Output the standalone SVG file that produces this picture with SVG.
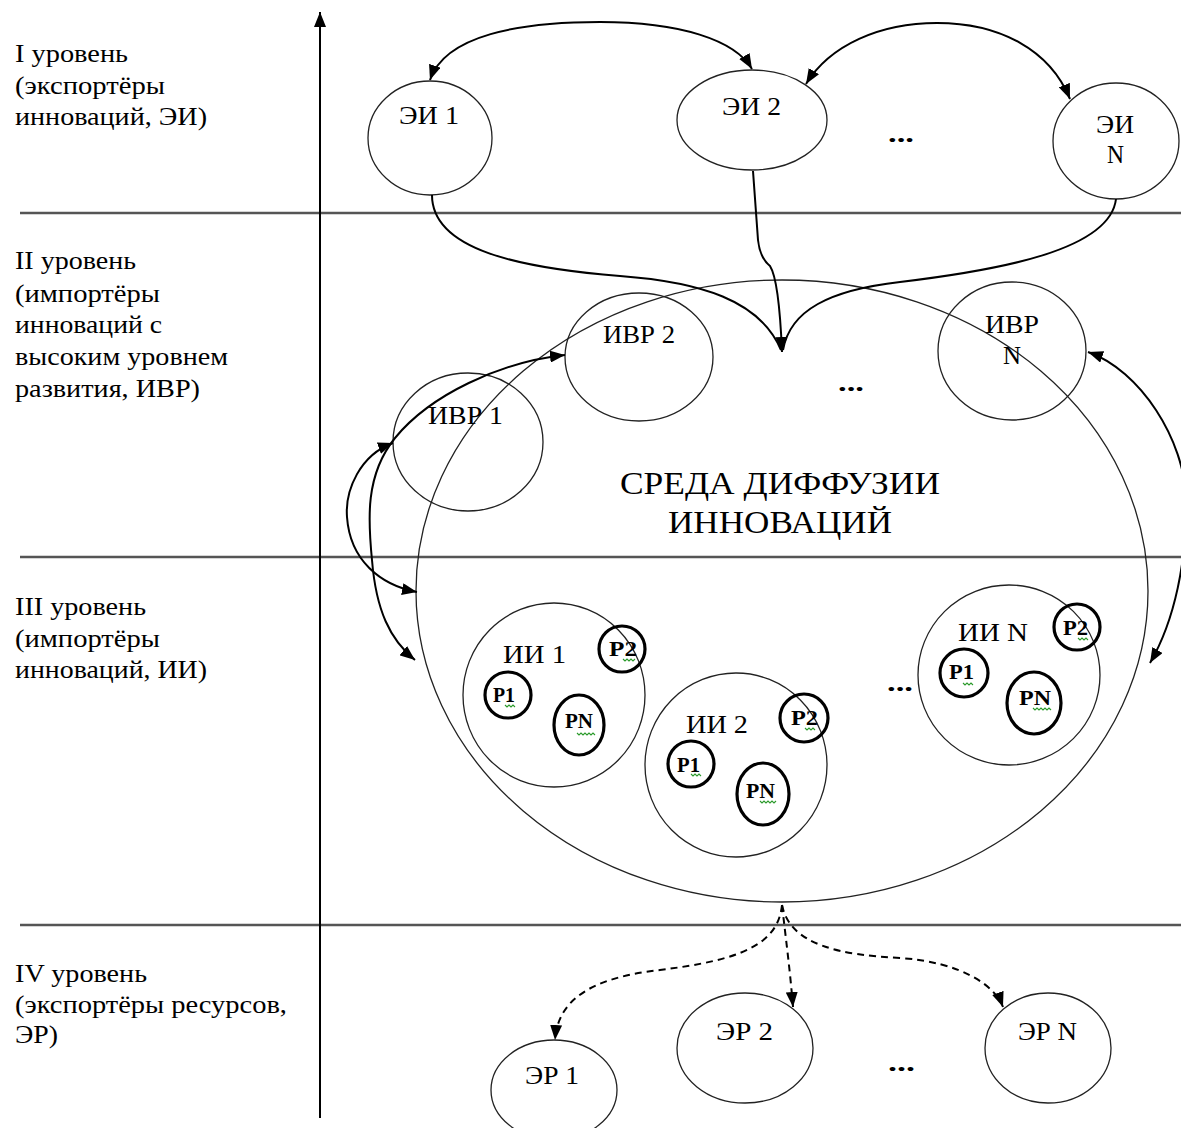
<svg xmlns="http://www.w3.org/2000/svg" width="1181" height="1128" viewBox="0 0 1181 1128">
<style>
text{font-family:"Liberation Serif","Times New Roman",serif;fill:#000;}
.lvl{font-size:25px;}
.lbl{font-size:26px;}
.big{font-size:31px;}
.p{font-size:22px;font-weight:bold;}
.dots{font-size:26px;font-weight:bold;}
.node{fill:none;stroke:#222;stroke-width:1.3;}
.pc{fill:none;stroke:#000;stroke-width:3.2;}
.band{stroke:#555;stroke-width:2.5;fill:none;}
.axis{stroke:#000;stroke-width:2;fill:none;}
.con{fill:none;stroke:#000;stroke-width:2;}
.dash{fill:none;stroke:#000;stroke-width:2;stroke-dasharray:7,5;}
.sq{fill:none;stroke:#2a9a2a;stroke-width:1.1;}
</style>
<defs>
<marker id="ah" markerUnits="userSpaceOnUse" markerWidth="16" markerHeight="12" refX="15" refY="6" orient="auto-start-reverse">
<path d="M0,0 L15,6 L0,12 z" fill="#000"/>
</marker>
</defs>
<rect width="1181" height="1128" fill="#fff"/>

<g id="grid">
<line class="band" x1="20" y1="213" x2="1181" y2="213"/>
<line class="band" x1="20" y1="557" x2="1181" y2="557"/>
<line class="band" x1="20" y1="925" x2="1181" y2="925"/>
<line class="axis" x1="320" y1="1118" x2="320" y2="12" marker-end="url(#ah)"/>
</g>

<g id="levels">
<text class="lvl" x="15" y="62" textLength="113" lengthAdjust="spacingAndGlyphs">I уровень</text>
<text class="lvl" x="15" y="94" textLength="150" lengthAdjust="spacingAndGlyphs">(экспортёры</text>
<text class="lvl" x="15" y="125" textLength="192" lengthAdjust="spacingAndGlyphs">инноваций, ЭИ)</text>
<text class="lvl" x="15" y="269" textLength="121" lengthAdjust="spacingAndGlyphs">II уровень</text>
<text class="lvl" x="15" y="302" textLength="145" lengthAdjust="spacingAndGlyphs">(импортёры</text>
<text class="lvl" x="15" y="333" textLength="147" lengthAdjust="spacingAndGlyphs">инноваций с</text>
<text class="lvl" x="15" y="365" textLength="213" lengthAdjust="spacingAndGlyphs">высоким уровнем</text>
<text class="lvl" x="15" y="397" textLength="185" lengthAdjust="spacingAndGlyphs">развития, ИВР)</text>
<text class="lvl" x="15" y="615" textLength="131" lengthAdjust="spacingAndGlyphs">III уровень</text>
<text class="lvl" x="15" y="647" textLength="145" lengthAdjust="spacingAndGlyphs">(импортёры</text>
<text class="lvl" x="15" y="678" textLength="192" lengthAdjust="spacingAndGlyphs">инноваций, ИИ)</text>
<text class="lvl" x="15" y="982" textLength="132" lengthAdjust="spacingAndGlyphs">IV уровень</text>
<text class="lvl" x="15" y="1013" textLength="272" lengthAdjust="spacingAndGlyphs">(экспортёры ресурсов,</text>
<text class="lvl" x="15" y="1043" textLength="43" lengthAdjust="spacingAndGlyphs">ЭР)</text>
</g>

<g id="env">
<ellipse class="node" cx="782" cy="591" rx="366" ry="311"/>
<text class="big" x="620" y="494" textLength="320" lengthAdjust="spacingAndGlyphs">СРЕДА ДИФФУЗИИ</text>
<text class="big" x="668" y="533" textLength="224" lengthAdjust="spacingAndGlyphs">ИННОВАЦИЙ</text>
</g>

<g id="ei1"><ellipse class="node" cx="430" cy="138" rx="62" ry="57"/><text class="lbl" x="399" y="124" textLength="60" lengthAdjust="spacingAndGlyphs">ЭИ 1</text></g>
<g id="ei2"><ellipse class="node" cx="752" cy="120" rx="75" ry="50"/><text class="lbl" x="722" y="115" textLength="59" lengthAdjust="spacingAndGlyphs">ЭИ 2</text></g>
<g id="eiN"><ellipse class="node" cx="1116" cy="141" rx="63" ry="58"/><text class="lbl" x="1096" y="133" textLength="38" lengthAdjust="spacingAndGlyphs">ЭИ</text><text class="lbl" x="1107" y="163" textLength="17" lengthAdjust="spacingAndGlyphs">N</text></g>
<g id="dots1"><text class="dots" x="888" y="142" textLength="26" lengthAdjust="spacingAndGlyphs">...</text></g>

<g id="ivr1"><ellipse class="node" cx="468" cy="442" rx="75" ry="69"/><text class="lbl" x="428" y="424" textLength="75" lengthAdjust="spacingAndGlyphs">ИВР 1</text></g>
<g id="ivr2"><ellipse class="node" cx="639" cy="357" rx="74" ry="64"/><text class="lbl" x="603" y="343" textLength="72" lengthAdjust="spacingAndGlyphs">ИВР 2</text></g>
<g id="ivrN"><ellipse class="node" cx="1012" cy="351" rx="74" ry="69"/><text class="lbl" x="985" y="333" textLength="54" lengthAdjust="spacingAndGlyphs">ИВР</text><text class="lbl" x="1003" y="364" textLength="18" lengthAdjust="spacingAndGlyphs">N</text></g>
<g id="dots2"><text class="dots" x="838" y="391" textLength="26" lengthAdjust="spacingAndGlyphs">...</text></g>

<g id="ii1">
<ellipse class="node" cx="554" cy="695" rx="91" ry="92"/>
<text class="lbl" x="503" y="663" textLength="63" lengthAdjust="spacingAndGlyphs">ИИ 1</text>
<circle class="pc" cx="622" cy="649" r="23"/><text class="p" x="609" y="656" textLength="28" lengthAdjust="spacingAndGlyphs">Р2</text>
<path class="sq" d="M623,659 l2,2 l2,-2 l2,2 l2,-2 l2,2 l2,-2"/>
<circle class="pc" cx="508" cy="695" r="23"/><text class="p" x="493" y="702" textLength="22" lengthAdjust="spacingAndGlyphs">Р1</text>
<path class="sq" d="M505,705 l2,2 l2,-2 l2,2 l2,-2 l2,2"/>
<ellipse class="pc" cx="579" cy="725" rx="25" ry="30"/><text class="p" x="565" y="728" textLength="28" lengthAdjust="spacingAndGlyphs">РN</text>
<path class="sq" d="M577,733 l2,2 l2,-2 l2,2 l2,-2 l2,2 l2,-2 l2,2 l2,-2 l2,2"/>
</g>
<g id="ii2">
<ellipse class="node" cx="736" cy="765" rx="91" ry="92"/>
<text class="lbl" x="686" y="733" textLength="62" lengthAdjust="spacingAndGlyphs">ИИ 2</text>
<circle class="pc" cx="804" cy="718" r="24"/><text class="p" x="791" y="725" textLength="27" lengthAdjust="spacingAndGlyphs">Р2</text>
<path class="sq" d="M805,728 l2,2 l2,-2 l2,2 l2,-2 l2,2"/>
<circle class="pc" cx="691" cy="764" r="23"/><text class="p" x="677" y="772" textLength="23" lengthAdjust="spacingAndGlyphs">Р1</text>
<path class="sq" d="M691,774 l2,2 l2,-2 l2,2 l2,-2 l2,2"/>
<ellipse class="pc" cx="763" cy="794" rx="26" ry="31"/><text class="p" x="746" y="798" textLength="29" lengthAdjust="spacingAndGlyphs">РN</text>
<path class="sq" d="M760,801 l2,2 l2,-2 l2,2 l2,-2 l2,2 l2,-2 l2,2 l2,-2"/>
</g>
<g id="iiN">
<ellipse class="node" cx="1009" cy="675" rx="91" ry="90"/>
<text class="lbl" x="958" y="641" textLength="70" lengthAdjust="spacingAndGlyphs">ИИ N</text>
<circle class="pc" cx="1077" cy="627" r="23"/><text class="p" x="1063" y="635" textLength="25" lengthAdjust="spacingAndGlyphs">Р2</text>
<path class="sq" d="M1078,638 l2,2 l2,-2 l2,2 l2,-2 l2,2"/>
<circle class="pc" cx="964" cy="673" r="24"/><text class="p" x="949" y="679" textLength="25" lengthAdjust="spacingAndGlyphs">Р1</text>
<path class="sq" d="M963,683 l2,2 l2,-2 l2,2 l2,-2 l2,2"/>
<ellipse class="pc" cx="1034" cy="703" rx="27" ry="31"/><text class="p" x="1019" y="705" textLength="32" lengthAdjust="spacingAndGlyphs">РN</text>
<path class="sq" d="M1033,708 l2,2 l2,-2 l2,2 l2,-2 l2,2 l2,-2 l2,2 l2,-2 l2,2"/>
</g>
<g id="dots3"><text class="dots" x="887" y="691" textLength="26" lengthAdjust="spacingAndGlyphs">...</text></g>

<g id="er1"><ellipse class="node" cx="554" cy="1090" rx="63" ry="50"/><text class="lbl" x="525" y="1084" textLength="54" lengthAdjust="spacingAndGlyphs">ЭР 1</text></g>
<g id="er2"><ellipse class="node" cx="745" cy="1048" rx="68" ry="55"/><text class="lbl" x="716" y="1040" textLength="57" lengthAdjust="spacingAndGlyphs">ЭР 2</text></g>
<g id="erN"><ellipse class="node" cx="1048" cy="1048" rx="63" ry="55"/><text class="lbl" x="1018" y="1040" textLength="59" lengthAdjust="spacingAndGlyphs">ЭР N</text></g>
<g id="dots4"><text class="dots" x="888" y="1071" textLength="27" lengthAdjust="spacingAndGlyphs">...</text></g>

<g id="connectors">
<path class="con" d="M430,80 C445,35 520,22 600,22 C680,22 735,40 752,69" marker-start="url(#ah)" marker-end="url(#ah)"/>
<path class="con" d="M806,84 C830,45 880,23 937,23 C1000,23 1050,50 1070,99" marker-start="url(#ah)" marker-end="url(#ah)"/>
<path class="con" d="M432,195 C432,250 520,268 620,276 C700,282 760,300 781,350"/>
<path class="con" d="M753,171 L758,240 Q760,258 770,266 Q779,280 782,352" marker-end="url(#ah)"/>
<path class="con" d="M1116,199 C1110,250 1000,270 900,282 C830,290 790,310 783,350"/>
<path class="con" d="M393,443 C360,455 345,490 347,517 C350,560 380,585 417,592" marker-start="url(#ah)" marker-end="url(#ah)"/>
<path class="con" d="M565,355 C500,362 430,395 395,438 C365,475 368,520 372,560 C376,610 390,640 415,660" marker-start="url(#ah)" marker-end="url(#ah)"/>
<path class="con" d="M1088,352 C1140,370 1185,440 1186,500 C1187,560 1175,620 1150,663" marker-start="url(#ah)" marker-end="url(#ah)"/>
<path class="dash" d="M782,905 C778,945 740,960 660,970 C590,978 558,1000 555,1040" marker-end="url(#ah)"/>
<path class="dash" d="M782,905 C786,940 790,970 793,1007" marker-end="url(#ah)"/>
<path class="dash" d="M782,905 C790,945 840,955 900,958 C960,962 995,985 1003,1007" marker-end="url(#ah)"/>
</g>
</svg>
